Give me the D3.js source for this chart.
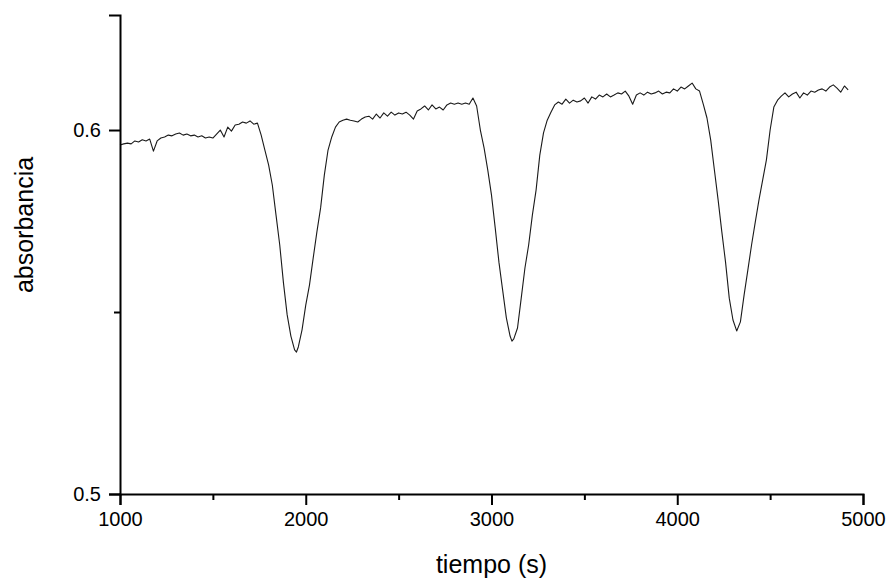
<!DOCTYPE html>
<html>
<head>
<meta charset="utf-8">
<script src="https://cdn.jsdelivr.net/npm/d3@7"></script>
<style>
  body { margin: 0; background: #fff; }
  text { font-family: "Liberation Sans", Arial, sans-serif; fill: #000; }
</style>
</head>
<body>
<div id="chart"></div>
<script>
var tiempo = [
  1000, 1020, 1040, 1060, 1080, 1100, 1120, 1140, 1160, 1180,
  1200, 1220, 1240, 1260, 1280, 1300, 1320, 1340, 1360, 1380,
  1400, 1420, 1440, 1460, 1480, 1500, 1520, 1540, 1560, 1580,
  1600, 1620, 1640, 1660, 1680, 1700, 1720, 1740, 1760, 1780,
  1800, 1820, 1840, 1860, 1880, 1900, 1920, 1940, 1950, 1960,
  1980, 2000, 2020, 2040, 2060, 2080, 2100, 2120, 2140, 2160,
  2180, 2200, 2220, 2240, 2260, 2280, 2300, 2320, 2340, 2360,
  2380, 2400, 2420, 2440, 2460, 2480, 2500, 2520, 2540, 2560,
  2580, 2600, 2620, 2640, 2660, 2680, 2700, 2720, 2740, 2760,
  2780, 2800, 2820, 2840, 2860, 2880, 2900, 2920, 2940, 2960,
  2980, 3000, 3020, 3040, 3060, 3080, 3100, 3110, 3120, 3140,
  3160, 3180, 3200, 3220, 3240, 3260, 3280, 3300, 3320, 3340,
  3360, 3380, 3400, 3420, 3440, 3460, 3480, 3500, 3520, 3540,
  3560, 3580, 3600, 3620, 3640, 3660, 3680, 3700, 3720, 3740,
  3760, 3780, 3800, 3820, 3840, 3860, 3880, 3900, 3920, 3940,
  3960, 3980, 4000, 4020, 4040, 4060, 4080, 4100, 4120, 4140,
  4160, 4180, 4200, 4220, 4240, 4260, 4280, 4300, 4320, 4340,
  4360, 4380, 4400, 4420, 4440, 4460, 4480, 4500, 4520, 4540,
  4560, 4580, 4600, 4620, 4640, 4660, 4680, 4700, 4720, 4740,
  4760, 4780, 4800, 4820, 4840, 4860, 4880, 4900, 4920
];

var absorbancia = [
  0.5959, 0.5962, 0.5964, 0.5962, 0.5970, 0.5967, 0.5973, 0.5970, 0.5975, 0.5942,
  0.5970, 0.5978, 0.5981, 0.5986, 0.5984, 0.5989, 0.5992, 0.5986, 0.5989, 0.5984,
  0.5986, 0.5981, 0.5984, 0.5978, 0.5981, 0.5978, 0.5989, 0.6000, 0.5981, 0.6008,
  0.5997, 0.6014, 0.6016, 0.6022, 0.6019, 0.6025, 0.6016, 0.6019, 0.5986, 0.5945,
  0.5904, 0.5849, 0.5766, 0.5684, 0.5580, 0.5492, 0.5434, 0.5396, 0.5390, 0.5404,
  0.5451, 0.5519, 0.5574, 0.5648, 0.5720, 0.5786, 0.5876, 0.5945, 0.5981, 0.6008,
  0.6022, 0.6027, 0.6030, 0.6027, 0.6025, 0.6022, 0.6030, 0.6036, 0.6038, 0.6030,
  0.6044, 0.6033, 0.6047, 0.6038, 0.6049, 0.6041, 0.6047, 0.6044, 0.6049, 0.6041,
  0.6030, 0.6052, 0.6058, 0.6066, 0.6055, 0.6069, 0.6058, 0.6063, 0.6055, 0.6069,
  0.6074, 0.6071, 0.6074, 0.6071, 0.6074, 0.6071, 0.6088, 0.6066, 0.6000, 0.5951,
  0.5890, 0.5821, 0.5731, 0.5637, 0.5560, 0.5484, 0.5434, 0.5420, 0.5426, 0.5456,
  0.5538, 0.5621, 0.5684, 0.5766, 0.5835, 0.5931, 0.5992, 0.6027, 0.6049, 0.6069,
  0.6077, 0.6071, 0.6085, 0.6074, 0.6082, 0.6077, 0.6080, 0.6088, 0.6074, 0.6091,
  0.6085, 0.6096, 0.6091, 0.6099, 0.6091, 0.6096, 0.6102, 0.6099, 0.6107, 0.6093,
  0.6071, 0.6096, 0.6102, 0.6096, 0.6104, 0.6099, 0.6102, 0.6107, 0.6099, 0.6104,
  0.6102, 0.6113, 0.6107, 0.6118, 0.6113, 0.6121, 0.6129, 0.6113, 0.6107, 0.6071,
  0.6033, 0.5973, 0.5890, 0.5808, 0.5720, 0.5637, 0.5538, 0.5478, 0.5448, 0.5473,
  0.5547, 0.5615, 0.5684, 0.5747, 0.5808, 0.5863, 0.5918, 0.6000, 0.6063, 0.6082,
  0.6093, 0.6102, 0.6091, 0.6099, 0.6104, 0.6088, 0.6102, 0.6096, 0.6107, 0.6104,
  0.6110, 0.6113, 0.6107, 0.6118, 0.6124, 0.6115, 0.6104, 0.6121, 0.6110
];

var xMajor = [1000, 2000, 3000, 4000, 5000];
var xMinor = [1500, 2500, 3500, 4500];
var yMajor = [0.5, 0.6];
var yMinor = [0.55];

var width = 887, height = 578;
var margin = {top: 15, left: 120, right: 24, bottom: 84};

var svg = d3.select("#chart")
  .append("svg")
    .attr("width", width)
    .attr("height", height);

var x = d3.scaleLinear()
    .domain([1000, 5000])
    .range([margin.left, width - margin.right]);

var y = d3.scaleLinear()
    .domain([0.5, 0.6316])
    .range([height - margin.bottom, margin.top]);

// data line
var line = d3.line()
    .x(function(d, i) { return x(tiempo[i]); })
    .y(function(d) { return y(d); });

svg.append("path")
    .datum(absorbancia)
    .attr("fill", "none")
    .attr("stroke", "#1a1a1a")
    .attr("stroke-width", 1.1)
    .attr("stroke-linejoin", "round")
    .attr("d", line);

// bottom axis
var xAxis = svg.append("g")
    .attr("transform", "translate(0," + y(0.5) + ")")
    .call(d3.axisBottom(x).tickValues(xMajor).tickSize(11).tickPadding(7).tickFormat(d3.format("d")));
xAxis.append("g")
    .call(d3.axisBottom(x).tickValues(xMinor).tickSize(6).tickFormat(""))
    .select(".domain").remove();

// left axis
var yAxis = svg.append("g")
    .attr("transform", "translate(" + x(1000) + ",0)")
    .call(d3.axisLeft(y).tickValues(yMajor).tickSize(11).tickPadding(8).tickFormat(d3.format(".1f")));
yAxis.append("g")
    .call(d3.axisLeft(y).tickValues(yMinor).tickSize(6).tickFormat(""))
    .select(".domain").remove();

svg.selectAll(".domain")
    .attr("stroke", "#000")
    .attr("stroke-width", 2);
svg.selectAll(".tick line")
    .attr("stroke", "#000")
    .attr("stroke-width", 2);
svg.selectAll(".tick text")
    .style("font-family", "'Liberation Sans', Arial, sans-serif")
    .style("font-size", "20px")
    .attr("fill", "#000");

// axis titles
svg.append("text")
    .attr("x", x(3000))
    .attr("y", 573)
    .attr("text-anchor", "middle")
    .style("font-size", "25px")
    .text("tiempo (s)");

svg.append("text")
    .attr("transform", "translate(33," + 225 + ") rotate(-90)")
    .attr("text-anchor", "middle")
    .style("font-size", "25px")
    .text("absorbancia");
</script>
</body>
</html>
